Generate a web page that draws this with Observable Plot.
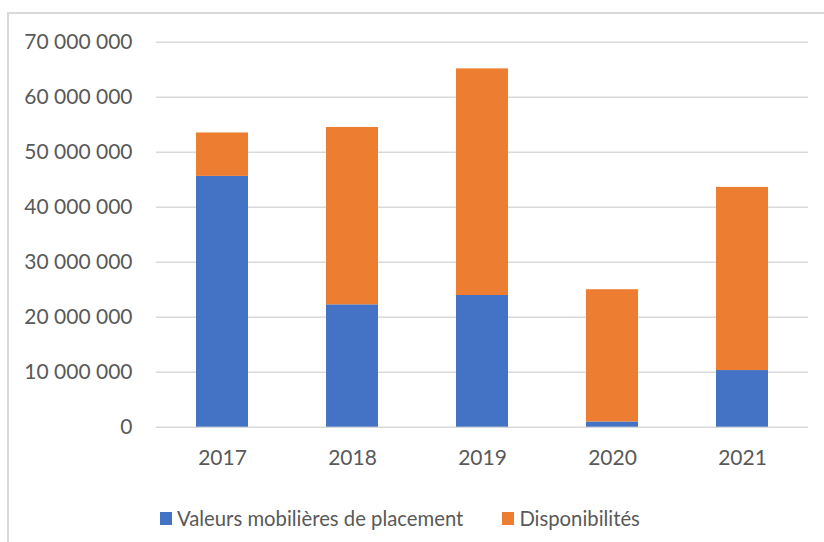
<!DOCTYPE html>
<html>
<head>
<meta charset="utf-8">
<script src="https://cdn.jsdelivr.net/npm/d3@7"></script>
<script src="https://cdn.jsdelivr.net/npm/@observablehq/plot@0.6"></script>
<style>
  html, body { margin: 0; padding: 0; background: #fff; }
  body { width: 824px; height: 542px; position: relative; overflow: hidden; font-family: Lato, "Open Sans", sans-serif; }
  #frame { position: absolute; left: 7px; top: 12px; right: -10px; bottom: -10px; border-left: 2px solid #d9d9d9; border-top: 2px solid #d9d9d9; }
  #chart { position: absolute; left: 0; top: 0; }
  #legend { position: absolute; left: 160px; top: 506px; display: flex; align-items: center; font-size: 20.3px; color: #595959; }
  .sw { display: inline-block; width: 12px; height: 13px; margin-right: 5px; }
  .item { display: flex; align-items: center; margin-right: 39px; }
</style>
</head>
<body>
<div id="frame"></div>
<div id="chart"></div>
<div id="legend"></div>
<script>
const years = ["2017", "2018", "2019", "2020", "2021"];
const seriesNames = ["Valeurs mobilières de placement", "Disponibilités"];
const valeurs = [45600000, 22250000, 23950000, 950000, 10300000];
const disponibilites = [7900000, 32250000, 41200000, 24050000, 33300000];
const yTicks = [0, 10000000, 20000000, 30000000, 40000000, 50000000, 60000000, 70000000];
const colors = ["#4472C4", "#ED7D31"];

const data = [];
years.forEach((y, i) => {
  data.push({year: y, series: seriesNames[0], value: valeurs[i]});
  data.push({year: y, series: seriesNames[1], value: disponibilites[i]});
});

const fmt = d3.formatLocale({decimal: ",", thousands: " ", grouping: [3], currency: ["", ""]}).format(",");

const chart = Plot.plot({
  width: 824,
  height: 490,
  marginLeft: 156,
  marginRight: 16,
  marginTop: 41.7,
  marginBottom: 63.3,
  style: {fontFamily: "Lato, 'Open Sans', sans-serif", fontSize: "21px", color: "#595959", background: "transparent"},
  x: {domain: years, paddingInner: 0.6, paddingOuter: 0.3, label: null},
  y: {domain: [0, 70000000], label: null},
  color: {domain: seriesNames, range: colors},
  marks: [
    Plot.ruleY(yTicks, {stroke: "#d9d9d9", strokeWidth: 1.5}),
    Plot.barY(data, {x: "year", y: "value", fill: "series"}),
    Plot.axisY(yTicks, {tickSize: 0, tickPadding: 24, tickFormat: fmt, fill: "#595959", fontSize: 21, label: null}),
    Plot.axisX({tickSize: 0, tickPadding: 23, fill: "#595959", fontSize: 21, label: null})
  ]
});
document.getElementById("chart").appendChild(chart);

const legend = document.getElementById("legend");
seriesNames.forEach((n, i) => {
  const it = document.createElement("div");
  it.className = "item";
  const sw = document.createElement("span");
  sw.className = "sw";
  sw.style.background = colors[i];
  it.appendChild(sw);
  it.appendChild(document.createTextNode(n));
  legend.appendChild(it);
});
</script>
</body>
</html>
